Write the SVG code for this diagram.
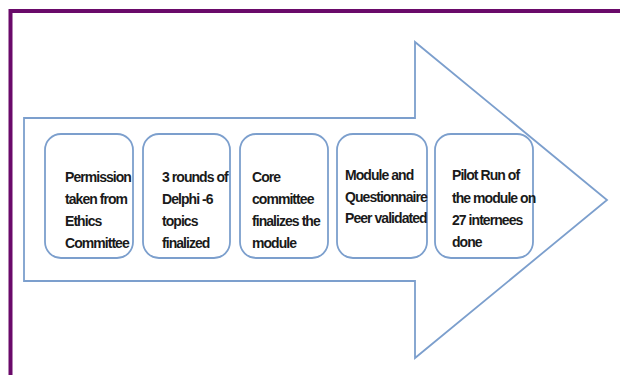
<svg xmlns="http://www.w3.org/2000/svg" width="620" height="375" viewBox="0 0 620 375">
<style>
.box{fill:#ffffff;stroke:#7c9fcd;stroke-width:1.8}
.t{font-family:"Liberation Sans",Arial,sans-serif;font-size:14px;font-weight:bold;fill:#1a1a1a;letter-spacing:-0.95px}
</style>
<rect x="0" y="0" width="620" height="375" fill="#ffffff"/>
<rect x="10.5" y="11" width="640" height="400" fill="none" stroke="#6a0a6a" stroke-width="4"/>
<g id="arrow">
<path d="M24 118 H415 V42 L607 200 L415 358 V281 H24 Z" fill="#ffffff" stroke="#7c9fcd" stroke-width="1.8" stroke-linejoin="miter"/>
</g>
<g id="n1"><rect class="box" x="45" y="134" width="88" height="124" rx="16"/>
<text class="t"><tspan x="65" y="182">Permission</tspan><tspan x="65" y="204">taken from</tspan><tspan x="65" y="226">Ethics</tspan><tspan x="65" y="248">Committee</tspan></text></g>
<g id="n2"><rect class="box" x="143" y="134" width="87" height="124" rx="16"/>
<text class="t"><tspan x="162" y="182">3 rounds of</tspan><tspan x="162" y="204">Delphi -6</tspan><tspan x="162" y="226">topics</tspan><tspan x="162" y="248">finalized</tspan></text></g>
<g id="n3"><rect class="box" x="240" y="134" width="88" height="124" rx="16"/>
<text class="t"><tspan x="252" y="182">Core</tspan><tspan x="252" y="204">committee</tspan><tspan x="252" y="226">finalizes the</tspan><tspan x="252" y="248">module</tspan></text></g>
<g id="n4"><rect class="box" x="337" y="134" width="90" height="124" rx="16"/>
<text class="t"><tspan x="345" y="180">Module and</tspan><tspan x="345" y="202">Questionnaire</tspan><tspan x="345" y="223">Peer validated</tspan></text></g>
<g id="n5"><rect class="box" x="435" y="134" width="98" height="124" rx="16"/>
<text class="t"><tspan x="452" y="180">Pilot Run of</tspan><tspan x="452" y="203">the module on</tspan><tspan x="452" y="225">27 internees</tspan><tspan x="452" y="247">done</tspan></text></g>
<g id="connectors"/>
</svg>
